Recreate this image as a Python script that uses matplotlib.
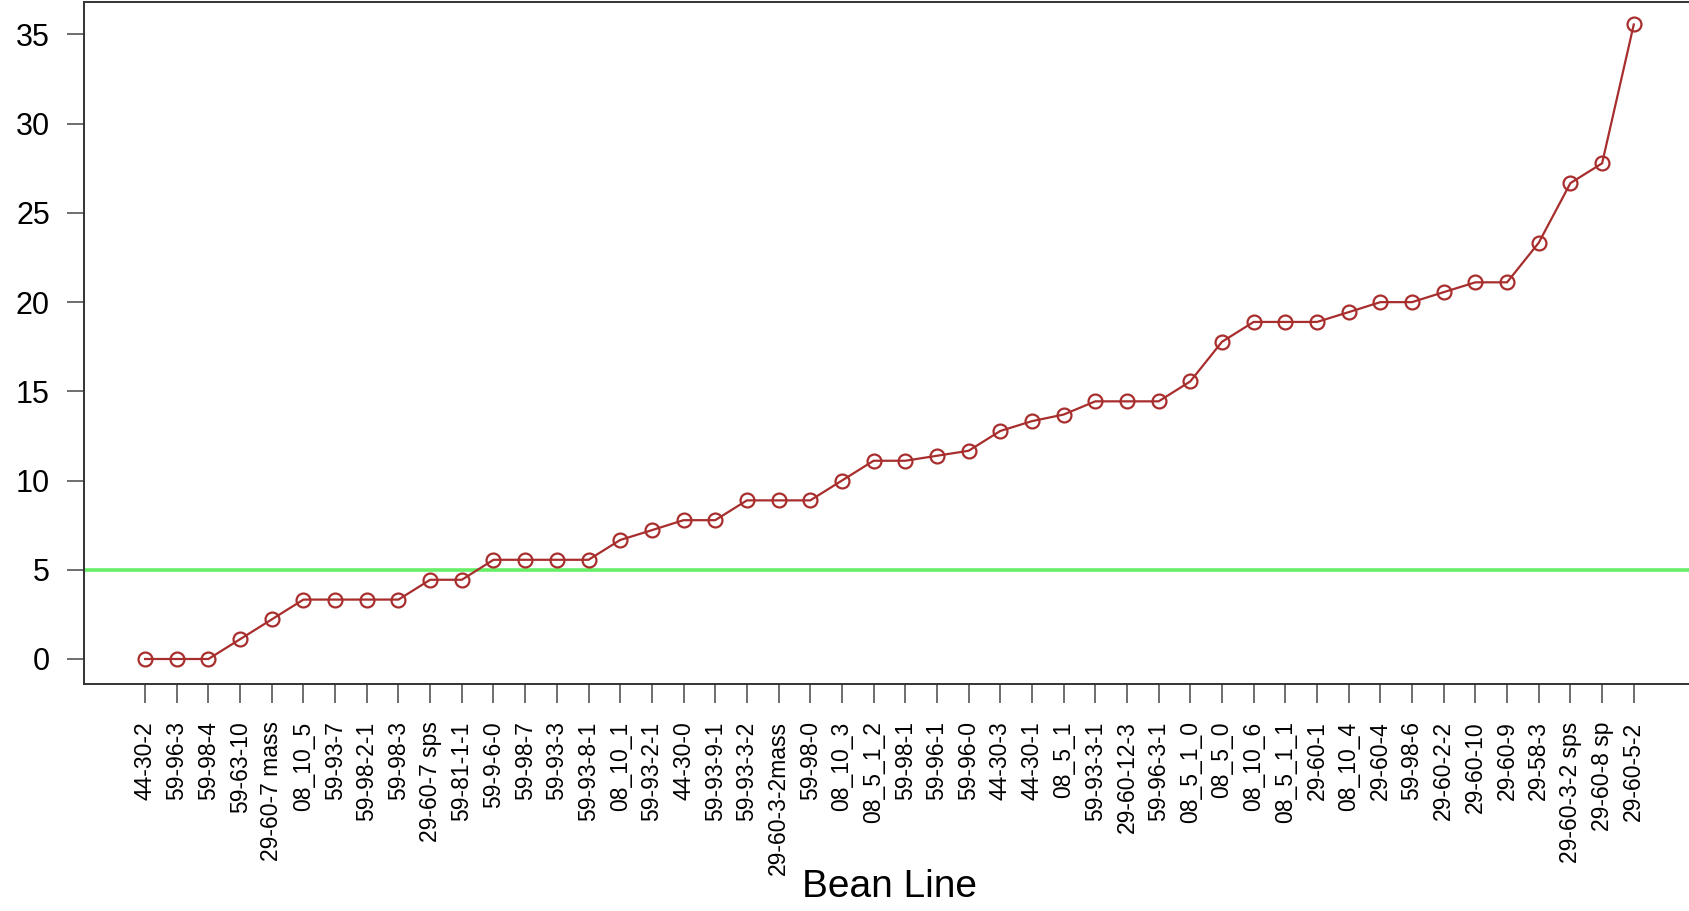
import matplotlib
matplotlib.use("Agg")
import matplotlib.pyplot as plt
import numpy as np

# ----------------------------------------------------------
# Data
# ----------------------------------------------------------

bean_lines = [
    "44-30-2", "59-96-3", "59-98-4", "59-63-10", "29-60-7 mass", "08_10_5",
    "59-93-7", "59-98-2-1", "59-98-3", "29-60-7 sps", "59-81-1-1", "59-9-6-0",
    "59-98-7", "59-93-3", "59-93-8-1", "08_10_1", "59-93-2-1", "44-30-0",
    "59-93-9-1", "59-93-3-2", "29-60-3-2mass", "59-98-0", "08_10_3", "08_5_1_2",
    "59-98-1", "59-96-1", "59-96-0", "44-30-3", "44-30-1", "08_5_1",
    "59-93-3-1", "29-60-12-3", "59-96-3-1", "08_5_1_0", "08_5_0", "08_10_6",
    "08_5_1_1", "29-60-1", "08_10_4", "29-60-4", "59-98-6", "29-60-2-2",
    "29-60-10", "29-60-9", "29-58-3", "29-60-3-2 sps", "29-60-8 sp", "29-60-5-2",
]

values = [
    0.0, 0.0, 0.0, 1.11, 2.22, 3.33,
    3.33, 3.33, 3.33, 4.44, 4.44, 5.56,
    5.56, 5.56, 5.56, 6.67, 7.22, 7.78,
    7.78, 8.89, 8.89, 8.89, 10.0, 11.11,
    11.11, 11.39, 11.67, 12.78, 13.33, 13.7,
    14.44, 14.44, 14.44, 15.56, 17.78, 18.89,
    18.89, 18.89, 19.44, 20.0, 20.0, 20.56,
    21.11, 21.11, 23.33, 26.67, 27.78, 35.56,
]

threshold = 5
y_ticks = [0, 5, 10, 15, 20, 25, 30, 35]

# ----------------------------------------------------------
# Plot
# ----------------------------------------------------------

plt.rcParams["font.family"] = ["Liberation Sans", "DejaVu Sans"]

fig = plt.figure(figsize=(16.89, 9.11), dpi=100)
ax = fig.add_axes([0.0497, 0.2492, 0.9538, 0.7486])

x = np.arange(1, len(values) + 1)

ax.axhline(threshold, color="#66ee66", lw=2.6, zorder=1)
ax.plot(x, values, color="#a82e2e", lw=1.6, marker="o", markersize=10,
        markerfacecolor="none", markeredgewidth=1.6, zorder=3)

ax.set_xlim(-0.93, 49.93)
ax.set_ylim(-1.40, 36.82)

ax.set_xticks(x)
ax.set_xticklabels(bean_lines, rotation=90, fontsize=16.5)
ax.set_yticks(y_ticks)
ax.set_yticklabels([str(v) for v in y_ticks], fontsize=22)

ax.tick_params(axis="x", length=13.5, width=1.2, pad=13.5, color="#555555")
ax.tick_params(axis="y", length=12, width=1.2, pad=12.5, color="#555555")

for side in ["left", "bottom", "top", "right"]:
    ax.spines[side].set_color("#333333")
    ax.spines[side].set_linewidth(1.4)

fig.text(0.5267, 1 - 887 / 911, "Bean Line", fontsize=28, ha="center", va="center")

fig.savefig("out.png", dpi=100, facecolor="white")
